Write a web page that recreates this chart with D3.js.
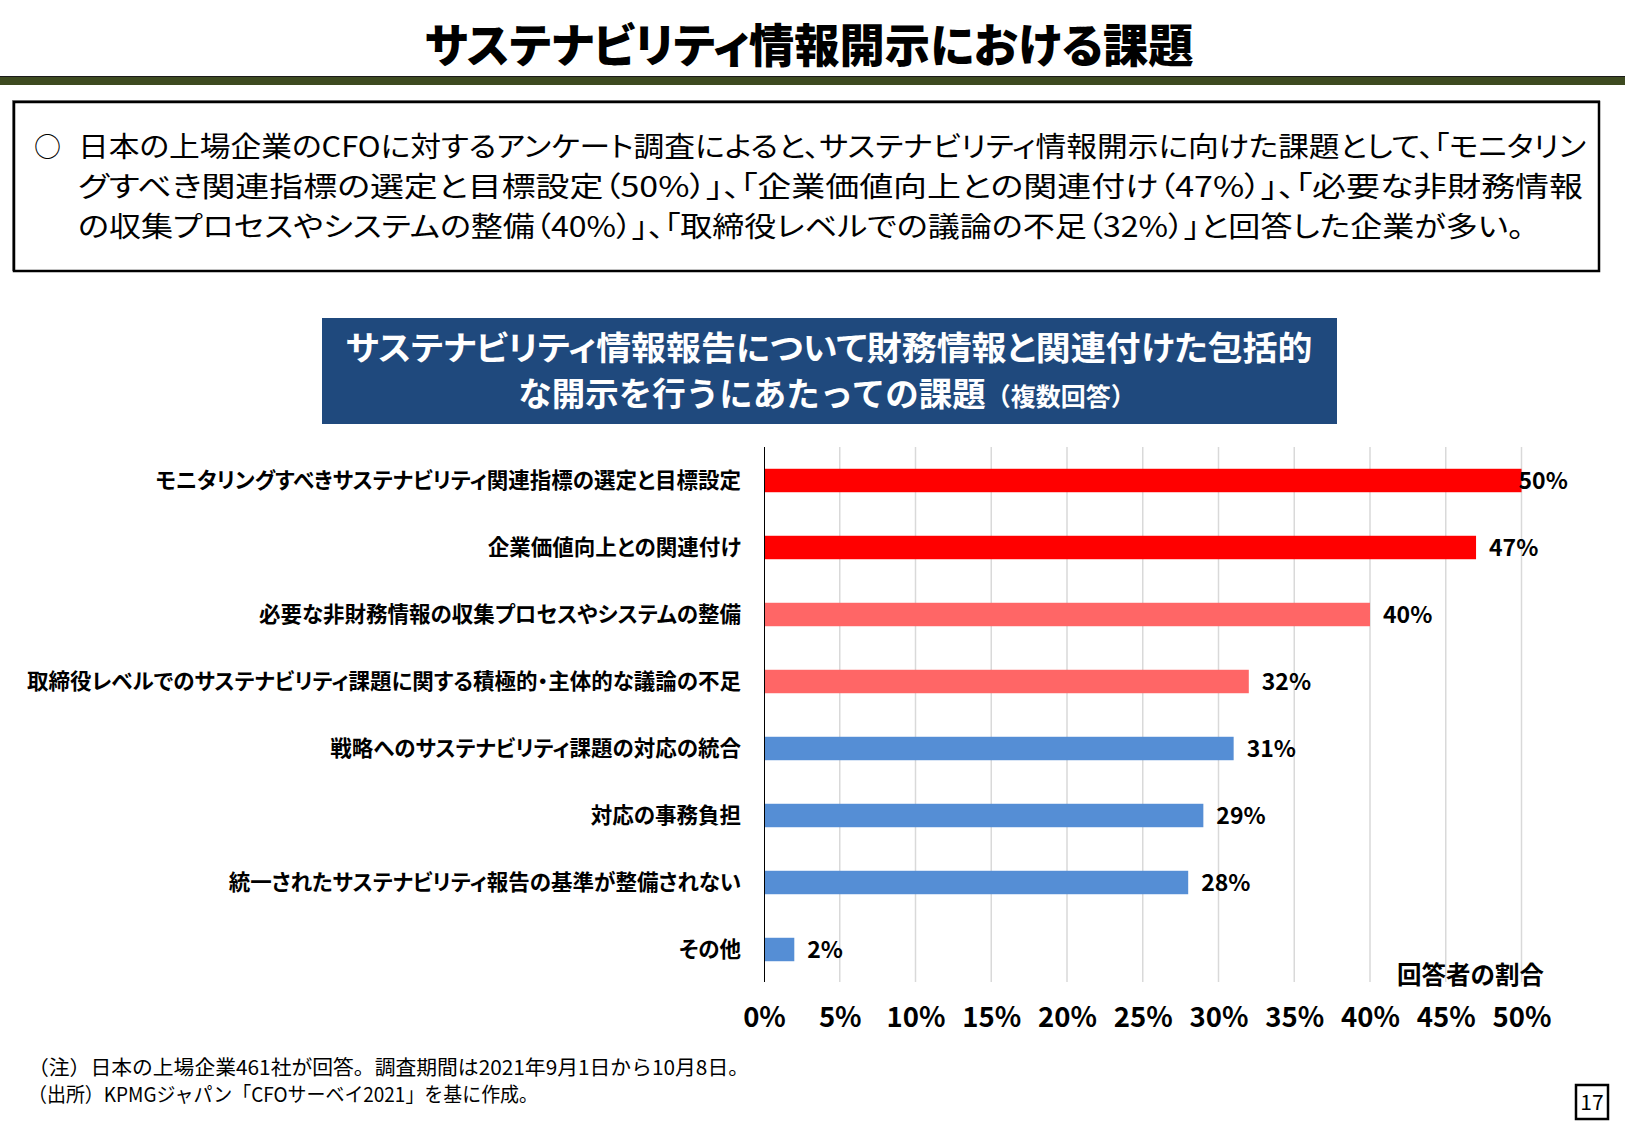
<!DOCTYPE html>
<html>
<head>
<meta charset="utf-8">
<script src="https://cdn.jsdelivr.net/npm/d3@7"></script>
<style>
  body { margin: 0; background: #fff; }
  text { font-family: "Noto Sans CJK JP", "Noto Sans", sans-serif; font-feature-settings: "palt"; }
  text.full, text.full tspan { font-feature-settings: normal; }
</style>
</head>
<body>
<div id="chart"></div>
<script>
// data
var categories = [
  "モニタリングすべきサステナビリティ関連指標の選定と目標設定",
  "企業価値向上との関連付け",
  "必要な非財務情報の収集プロセスやシステムの整備",
  "取締役レベルでのサステナビリティ課題に関する積極的・主体的な議論の不足",
  "戦略へのサステナビリティ課題の対応の統合",
  "対応の事務負担",
  "統一されたサステナビリティ報告の基準が整備されない",
  "その他"
];
var values = [50, 47, 40, 32, 31, 29, 28, 2];
var groups = ["上位", "上位", "次点", "次点", "他", "他", "他", "他"];
var tickValues = [0, 5, 10, 15, 20, 25, 30, 35, 40, 45, 50];

var pageTitle = "サステナビリティ情報開示における課題";
var summaryLines = [
  "日本の上場企業のCFOに対するアンケート調査によると、サステナビリティ情報開示に向けた課題として、「モニタリン",
  "グすべき関連指標の選定と目標設定（50%）」、「企業価値向上との関連付け（47%）」、「必要な非財務情報",
  "の収集プロセスやシステムの整備（40%）」、「取締役レベルでの議論の不足（32%）」と回答した企業が多い。"
];
var chartTitle1 = "サステナビリティ情報報告について財務情報と関連付けた包括的";
var chartTitle2 = "な開示を行うにあたっての課題";
var chartTitle2b = "（複数回答）";
var axisTitle = "回答者の割合";
var notes = [
  "（注）日本の上場企業461社が回答。調査期間は2021年9月1日から10月8日。",
  "（出所）KPMGジャパン「CFOサーベイ2021」を基に作成。"
];
var pageNo = "17";

var W = 1625, H = 1125;
var svg = d3.select("#chart").append("svg")
    .attr("width", W)
    .attr("height", H);

// ---- header
svg.append("text")
    .attr("x", 809).attr("y", 62)
    .attr("text-anchor", "middle")
    .attr("font-size", 46).attr("font-weight", 900)
    .attr("textLength", 769).attr("lengthAdjust", "spacingAndGlyphs")
    .text(pageTitle);

svg.append("rect").attr("x", 0).attr("y", 76).attr("width", W).attr("height", 9).attr("fill", "#3d4a20");
svg.append("line").attr("x1", 0).attr("x2", W).attr("y1", 76.5).attr("y2", 76.5).attr("stroke", "#1a1a1a").attr("stroke-width", 1);

// ---- summary box
svg.append("rect").attr("x", 12.5).attr("y", 100.5).attr("width", 1587).attr("height", 170)
    .attr("fill", "none").attr("stroke", "#8c8c8c").attr("stroke-width", 1);
svg.append("rect").attr("x", 14).attr("y", 102).attr("width", 1585).attr("height", 169)
    .attr("fill", "#fff").attr("stroke", "#000").attr("stroke-width", 2.5);

svg.append("text").attr("x", 34).attr("y", 157).attr("font-size", 27).text("○");
var lineW = [1508, 1505, 1446];
summaryLines.forEach(function(s, i) {
  svg.append("text")
      .attr("x", 78).attr("y", 157 + i * 40)
      .attr("font-size", 28)
      .attr("textLength", lineW[i]).attr("lengthAdjust", "spacingAndGlyphs")
      .text(s);
});

// ---- chart title box
svg.append("rect").attr("x", 322).attr("y", 318).attr("width", 1015).attr("height", 106).attr("fill", "#1f497d");
svg.append("text")
    .attr("x", 829).attr("y", 360)
    .attr("text-anchor", "middle").attr("fill", "#fff")
    .attr("font-size", 33).attr("font-weight", 700)
    .attr("textLength", 967).attr("lengthAdjust", "spacingAndGlyphs")
    .text(chartTitle1);
var t2 = svg.append("text")
    .attr("class", "full")
    .attr("x", 827).attr("y", 406)
    .attr("text-anchor", "middle").attr("fill", "#fff")
    .attr("font-weight", 700);
t2.append("tspan").attr("font-size", 33.5).text(chartTitle2);
t2.append("tspan").attr("font-size", 25).text(chartTitle2b);

// ---- bar chart
var x0 = 764, x1 = 1521.5, yTop = 447, yBot = 983;

var x = d3.scaleLinear().domain([0, 50]).range([x0, x1]);
var y = d3.scaleBand().domain(categories).range([yTop, yBot]).paddingInner(0.65).paddingOuter(0.325);
var color = d3.scaleOrdinal().domain(["上位", "次点", "他"]).range(["#ff0000", "#ff6666", "#558ed5"]);

// gridlines
svg.append("g")
  .selectAll("line")
  .data(tickValues.slice(1))
  .enter().append("line")
    .attr("x1", function(d) { return x(d); })
    .attr("x2", function(d) { return x(d); })
    .attr("y1", yTop).attr("y2", yBot - 1)
    .attr("stroke", "#d9d9d9").attr("stroke-width", 1.5);

// bars
svg.append("g")
  .selectAll("rect")
  .data(values)
  .enter().append("rect")
    .attr("x", x0)
    .attr("y", function(d, i) { return y(categories[i]); })
    .attr("width", function(d) { return x(d) - x0; })
    .attr("height", y.bandwidth())
    .attr("fill", function(d, i) { return color(groups[i]); });

// vertical axis line
svg.append("line").attr("x1", x0 + 0.5).attr("x2", x0 + 0.5).attr("y1", yTop).attr("y2", yBot - 1)
    .attr("stroke", "#000").attr("stroke-width", 1);

// value labels (the 50% one is pulled back against the plot edge, as on the slide)
svg.append("g")
  .selectAll("text")
  .data(values)
  .enter().append("text")
    .attr("x", function(d) { return Math.min(x(d) + 13, x(50) - 3); })
    .attr("y", function(d, i) { return y(categories[i]) + y.bandwidth() / 2; })
    .attr("dy", "0.36em")
    .attr("font-size", 23).attr("font-weight", 700)
    .text(function(d) { return d + "%"; });

// category labels
svg.append("g")
  .selectAll("text")
  .data(categories)
  .enter().append("text")
    .attr("x", 741)
    .attr("y", function(d) { return y(d) + y.bandwidth() / 2; })
    .attr("dy", "0.36em")
    .attr("text-anchor", "end")
    .attr("font-size", 21.5).attr("font-weight", 700)
    .text(function(d) { return d; });

// x axis tick labels
var xAxis = d3.axisBottom(x)
    .tickValues(tickValues)
    .tickSize(0)
    .tickPadding(0)
    .tickFormat(function(d) { return d + "%"; });
var gx = svg.append("g").attr("transform", "translate(0," + 1027 + ")").call(xAxis);
gx.select(".domain").remove();
gx.selectAll("text")
    .attr("dy", 0).attr("y", 0)
    .attr("fill", "#000")
    .attr("font-size", 27.5).attr("font-weight", 700)
    .style("font-family", "\"Noto Sans CJK JP\", sans-serif");

svg.append("text")
    .attr("class", "full")
    .attr("x", 1544).attr("y", 984)
    .attr("text-anchor", "end")
    .attr("font-size", 24.5).attr("font-weight", 700)
    .text(axisTitle);

// ---- footnotes
var noteW = [721, 510];
notes.forEach(function(s, i) {
  svg.append("text")
      .attr("class", "full")
      .attr("x", 28).attr("y", 1075 + i * 27)
      .attr("font-size", 20)
      .attr("textLength", noteW[i]).attr("lengthAdjust", "spacingAndGlyphs")
      .text(s);
});

// ---- page number
svg.append("rect").attr("x", 1576).attr("y", 1085).attr("width", 32).attr("height", 34)
    .attr("fill", "#fff").attr("stroke", "#000").attr("stroke-width", 2.5);
svg.append("text").attr("x", 1592).attr("y", 1110).attr("text-anchor", "middle")
    .attr("font-size", 21).text(pageNo);
</script>
</body>
</html>
